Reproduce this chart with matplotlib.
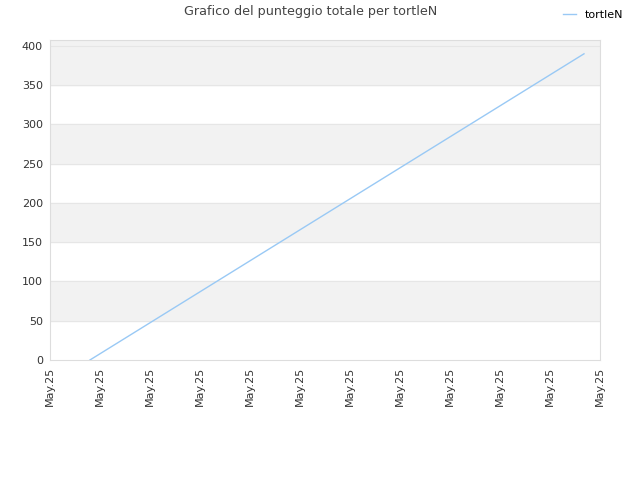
import matplotlib.pyplot as plt

# data
x_pos = [0.8, 10.68]
score = [0, 390]
tick_pos = list(range(12))
tick_labels = ['May.25'] * 12
series_name = 'tortleN'

fig = plt.figure(figsize=(6.4, 4.8), dpi=100)
ax = fig.add_axes([0.078, 0.25, 0.8595, 0.6667])

# alternating bands
for lo in range(50, 400, 100):
	ax.axhspan(lo, lo + 50, color='#f2f2f2', zorder=0)
ax.axhspan(350, 407.6, color='#f2f2f2', zorder=0)
for yv in range(50, 401, 50):
	ax.axhline(yv, color='#e6e6e6', lw=0.8, zorder=1)

ax.plot(x_pos, score, color='#99c9f5', lw=1, label=series_name, zorder=3)

ax.set_xticks(tick_pos)
ax.set_xticklabels(tick_labels, rotation=90, fontsize=8, color='#333333')
ax.set_yticks(range(0, 401, 50))
ax.tick_params(axis='y', labelsize=8, labelcolor='#333333')
ax.tick_params(length=0, pad=5)
ax.set_xlim(0, 11)
ax.set_ylim(0, 407.6)

for s in ax.spines.values():
	s.set_color('#dddddd')

fig.text(0.486, 0.975, 'Grafico del punteggio totale per tortleN', ha='center', va='center', fontsize=9.2, color='#444444')
fig.legend(loc='upper right', bbox_to_anchor=(0.99, 1.0), frameon=False, fontsize=8, handlelength=1.2)

fig.savefig('out.png', dpi=100)
